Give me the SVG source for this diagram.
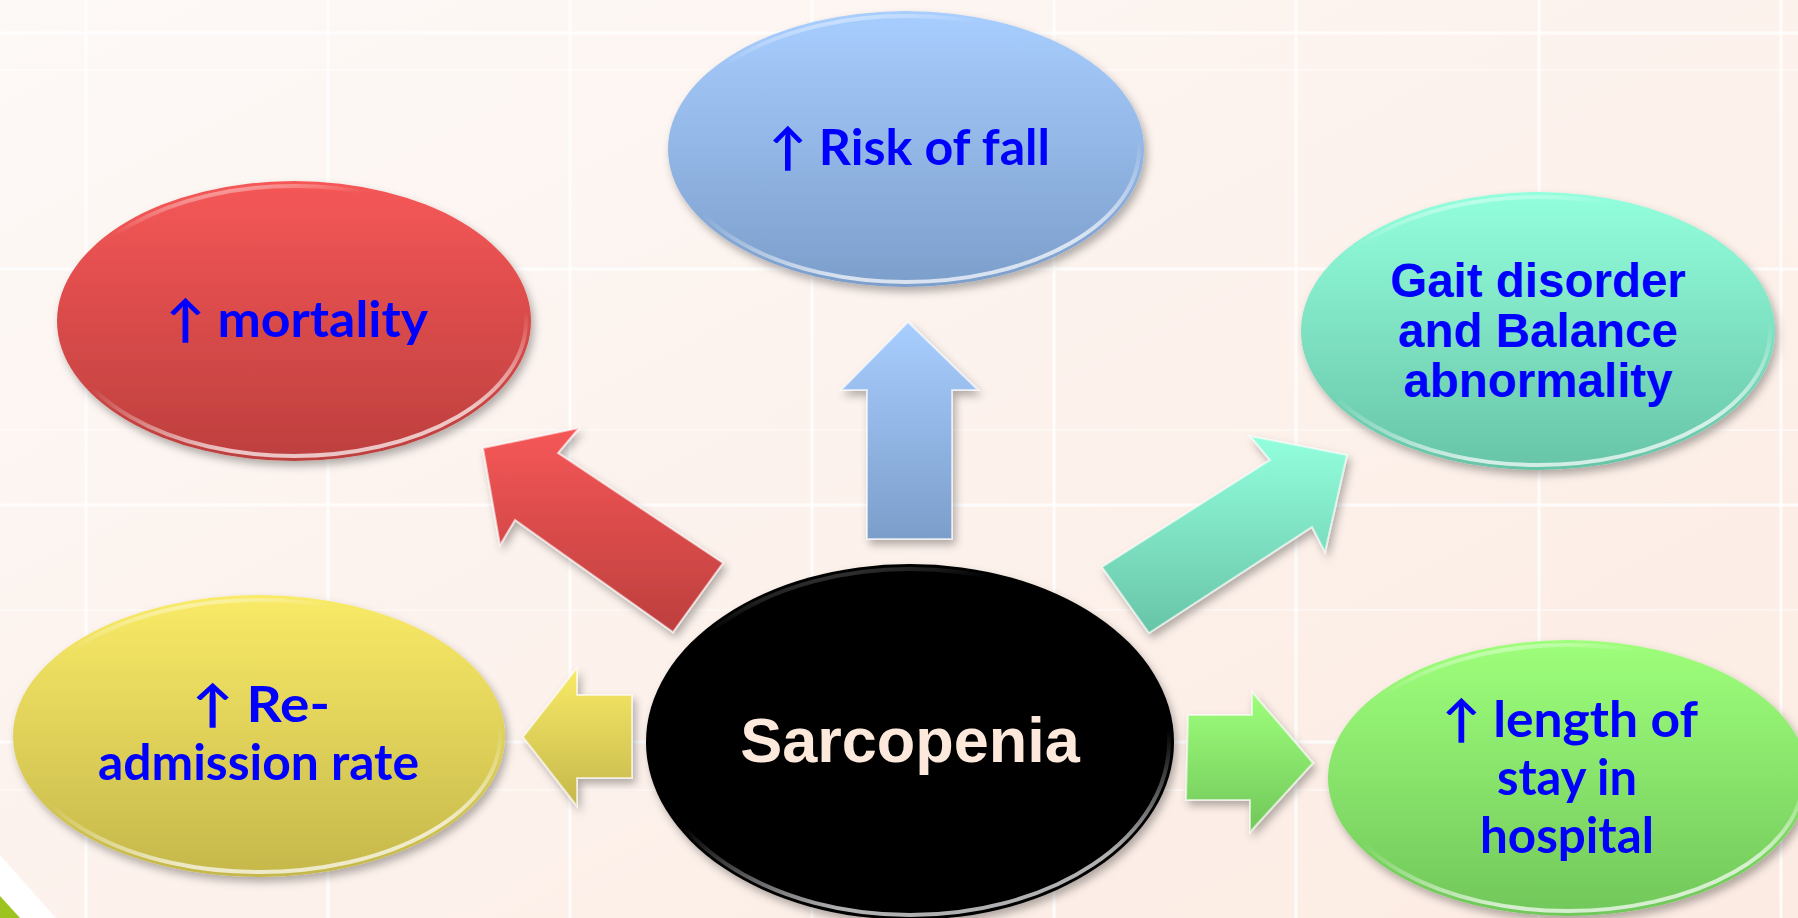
<svg xmlns="http://www.w3.org/2000/svg" width="1798" height="918" viewBox="0 0 1798 918">
<defs>
<style>
.grid line{stroke:#ffffff;stroke-width:3;opacity:0.85}
.grid .minor{stroke-width:1.5;opacity:0.55}
.lbl{font-family:Lato,"Liberation Sans",sans-serif;font-weight:bold;font-size:50px;fill:#0000ff}
.arial{font-family:"Liberation Sans",Arial,sans-serif;font-weight:bold;font-size:47.5px;fill:#0000ff;text-anchor:middle}
.center{font-family:"Liberation Sans",Arial,sans-serif;font-weight:bold;font-size:63px;fill:#fde9dc;text-anchor:middle}
.rim{fill:none;stroke:url(#rim);stroke-width:4}
.arr{stroke:#ffffff;stroke-opacity:0.6;stroke-width:2;filter:url(#sh)}
</style>
<linearGradient id="bg" x1="0" y1="0" x2="1" y2="1">
<stop offset="0" stop-color="#fdf9f7"/><stop offset="1" stop-color="#fcebe2"/>
</linearGradient>
<linearGradient id="gRed" x1="0" y1="0" x2="0" y2="1"><stop offset="0" stop-color="#f65757"/><stop offset="1" stop-color="#bd3f3e"/></linearGradient>
<linearGradient id="gBlue" x1="0" y1="0" x2="0" y2="1"><stop offset="0" stop-color="#a8ceff"/><stop offset="1" stop-color="#7c9ecb"/></linearGradient>
<linearGradient id="gTeal" x1="0" y1="0" x2="0" y2="1"><stop offset="0" stop-color="#93ffdd"/><stop offset="1" stop-color="#68c4a7"/></linearGradient>
<linearGradient id="gYel" x1="0" y1="0" x2="0" y2="1"><stop offset="0" stop-color="#f9ea67"/><stop offset="1" stop-color="#c5b84b"/></linearGradient>
<linearGradient id="gGrn" x1="0" y1="0" x2="0" y2="1"><stop offset="0" stop-color="#9eff7b"/><stop offset="1" stop-color="#71c75a"/></linearGradient>
<linearGradient id="rim" x1="0" y1="0" x2="0.3" y2="1">
<stop offset="0" stop-color="#ffffff" stop-opacity="0.9"/><stop offset="0.2" stop-color="#ffffff" stop-opacity="0"/>
<stop offset="0.7" stop-color="#ffffff" stop-opacity="0"/><stop offset="1" stop-color="#ffffff" stop-opacity="0.7"/>
</linearGradient>
<linearGradient id="rimDark" x1="0" y1="0" x2="0.3" y2="1">
<stop offset="0" stop-color="#888888" stop-opacity="0.8"/><stop offset="0.2" stop-color="#888888" stop-opacity="0"/>
<stop offset="0.7" stop-color="#bbbbbb" stop-opacity="0"/><stop offset="1" stop-color="#dddddd" stop-opacity="0.8"/>
</linearGradient>
<filter id="sh" x="-10%" y="-10%" width="125%" height="130%">
<feDropShadow dx="3" dy="5" stdDeviation="4" flood-color="#000000" flood-opacity="0.3"/>
</filter>
</defs>

<rect x="0" y="0" width="1798" height="918" fill="url(#bg)"/>
<g class="grid">
<line x1="86" y1="0" x2="86" y2="918"/><line x1="328" y1="0" x2="328" y2="918"/>
<line x1="570" y1="0" x2="570" y2="918"/><line x1="812" y1="0" x2="812" y2="918"/>
<line x1="1054" y1="0" x2="1054" y2="918"/><line x1="1296" y1="0" x2="1296" y2="918"/>
<line x1="1539" y1="0" x2="1539" y2="918"/><line x1="1781" y1="0" x2="1781" y2="918"/>
<line x1="0" y1="33" x2="1798" y2="33"/><line x1="0" y1="269" x2="1798" y2="269"/>
<line x1="0" y1="505" x2="1798" y2="505"/><line x1="0" y1="742" x2="1798" y2="742"/>
<line class="minor" x1="0" y1="70" x2="1798" y2="70"/><line class="minor" x1="0" y1="430" x2="1798" y2="430"/>
<line class="minor" x1="0" y1="610" x2="1798" y2="610"/><line class="minor" x1="0" y1="790" x2="1798" y2="790"/>
</g>
<polygon points="0,855 56,918 20,918 0,896" fill="#ffffff"/>
<polygon points="0,896 20,918 0,918" fill="#9cc31e"/>

<g id="connectors">
<polygon class="arr" fill="url(#gRed)" points="483,448 579,428 558,453 723,563 673,632 515,520 500,545"/>
<polygon class="arr" fill="url(#gBlue)" points="908,322 978,390 952,390 952,539 867,539 867,390 841,390"/>
<polygon class="arr" fill="url(#gTeal)" points="1347,455 1325,552 1312,527 1149,633 1102,567 1270,460 1250,436"/>
<polygon class="arr" fill="url(#gYel)" points="523,737 577,668 577,695 632,695 632,778 577,778 577,806"/>
<polygon class="arr" fill="url(#gGrn)" points="1313,763 1250,832 1250,800 1186,800 1188,715 1252,715 1252,692"/>
</g>

<g id="node-mortality">
<ellipse cx="294" cy="321" rx="237" ry="140" fill="url(#gRed)" filter="url(#sh)"/>
<ellipse class="rim" cx="294" cy="321" rx="232" ry="135"/>
<text class="lbl" x="166" y="337" textLength="262" lengthAdjust="spacingAndGlyphs">↑ mortality</text>
</g>

<g id="node-fall">
<ellipse cx="906" cy="149" rx="238" ry="138" fill="url(#gBlue)" filter="url(#sh)"/>
<ellipse class="rim" cx="906" cy="149" rx="233" ry="133"/>
<text class="lbl" x="769" y="165" textLength="281" lengthAdjust="spacingAndGlyphs">↑ Risk of fall</text>
</g>

<g id="node-gait">
<ellipse cx="1538" cy="331" rx="237" ry="139" fill="url(#gTeal)" filter="url(#sh)"/>
<ellipse class="rim" cx="1538" cy="331" rx="232" ry="134"/>
<text class="arial" x="1538" y="297">Gait disorder</text>
<text class="arial" x="1538" y="347">and Balance</text>
<text class="arial" x="1538" y="397">abnormality</text>
</g>

<g id="node-readmission">
<ellipse cx="259" cy="736" rx="246" ry="141" fill="url(#gYel)" filter="url(#sh)"/>
<ellipse class="rim" cx="259" cy="736" rx="241" ry="136"/>
<text class="lbl" x="192" y="722" textLength="138" lengthAdjust="spacingAndGlyphs">↑  Re-</text>
<text class="lbl" x="98" y="780" textLength="321" lengthAdjust="spacingAndGlyphs">admission rate</text>
</g>

<g id="node-sarcopenia">
<ellipse cx="910" cy="742" rx="264" ry="178" fill="#000000" filter="url(#sh)"/>
<ellipse cx="910" cy="742" rx="259" ry="173" fill="none" stroke="url(#rimDark)" stroke-width="4"/>
<text class="center" x="910" y="762">Sarcopenia</text>
</g>

<g id="node-stay">
<ellipse cx="1568" cy="778" rx="240" ry="138" fill="url(#gGrn)" filter="url(#sh)"/>
<ellipse class="rim" cx="1568" cy="778" rx="235" ry="133"/>
<text class="lbl" x="1442" y="737" textLength="256" lengthAdjust="spacingAndGlyphs">↑ length of</text>
<text class="lbl" x="1497" y="795" textLength="140" lengthAdjust="spacingAndGlyphs">stay in</text>
<text class="lbl" x="1480" y="853" textLength="174" lengthAdjust="spacingAndGlyphs">hospital</text>
</g>
</svg>
